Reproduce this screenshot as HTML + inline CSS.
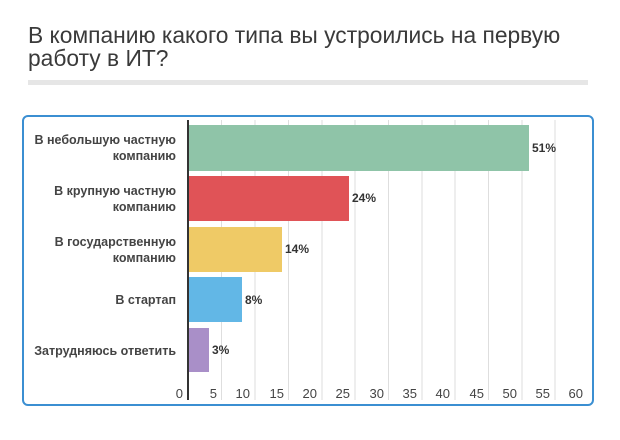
<!DOCTYPE html>
<html><head><meta charset="utf-8"><style>
body{margin:0;background:#fff;width:620px;height:435px;overflow:hidden;font-family:"Liberation Sans",sans-serif;}
</style></head><body>
<svg width="620" height="435" xmlns="http://www.w3.org/2000/svg" font-family="Liberation Sans, sans-serif">
<text x="28" y="43" font-size="22.8" fill="#3a3a3a">В компанию какого типа вы устроились на первую</text>
<text x="28" y="66" font-size="22.8" fill="#3a3a3a">работу в ИТ?</text>
<rect x="28" y="80" width="560" height="5" fill="#e6e6e6"/>
<rect x="23" y="116" width="570" height="289" rx="5" fill="#fff" stroke="#3b8fd2" stroke-width="2"/>
<g stroke="#dedede" stroke-width="1">
<line x1="221.5" y1="120" x2="221.5" y2="400"/><line x1="255" y1="120" x2="255" y2="400"/>
<line x1="288.5" y1="120" x2="288.5" y2="400"/><line x1="322" y1="120" x2="322" y2="400"/>
<line x1="355" y1="120" x2="355" y2="400"/><line x1="388.5" y1="120" x2="388.5" y2="400"/>
<line x1="422" y1="120" x2="422" y2="400"/><line x1="455" y1="120" x2="455" y2="400"/>
<line x1="488.5" y1="120" x2="488.5" y2="400"/><line x1="522" y1="120" x2="522" y2="400"/>
<line x1="555" y1="120" x2="555" y2="400"/>
</g>
<rect x="188" y="125" width="341" height="46" fill="#8fc4a8"/>
<rect x="188" y="176" width="161" height="45" fill="#e05357"/>
<rect x="188" y="227" width="94" height="45" fill="#efca66"/>
<rect x="188" y="277" width="54" height="45" fill="#62b7e6"/>
<rect x="188" y="328" width="21" height="44" fill="#a98fc8"/>
<line x1="188" y1="120" x2="188" y2="400" stroke="#333" stroke-width="2"/>
<g font-size="12" fill="#333" font-weight="bold">
<text x="532" y="152">51%</text><text x="352" y="202">24%</text><text x="285" y="253">14%</text>
<text x="245" y="304">8%</text><text x="212" y="354">3%</text>
</g>
<g font-size="12.5" fill="#444" font-weight="bold" text-anchor="end">
<text x="176" y="144">В небольшую частную</text><text x="176" y="160">компанию</text>
<text x="176" y="195">В крупную частную</text><text x="176" y="211">компанию</text>
<text x="176" y="246">В государственную</text><text x="176" y="262">компанию</text>
<text x="176" y="304">В стартап</text>
<text x="176" y="355">Затрудняюсь ответить</text>
</g>
<g font-size="13" fill="#444" text-anchor="end">
<text x="183" y="398">0</text><text x="217" y="398">5</text><text x="250" y="398">10</text>
<text x="284" y="398">15</text><text x="317" y="398">20</text><text x="350" y="398">25</text>
<text x="384" y="398">30</text><text x="417" y="398">35</text><text x="450" y="398">40</text>
<text x="484" y="398">45</text><text x="517" y="398">50</text><text x="550" y="398">55</text>
<text x="583" y="398">60</text>
</g>
</svg>
</body></html>
